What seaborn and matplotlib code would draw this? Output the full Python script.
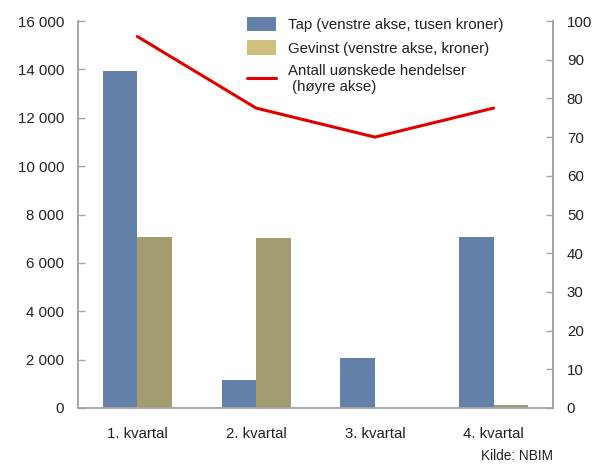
import matplotlib
matplotlib.use("Agg")
import matplotlib.pyplot as plt
from matplotlib.patches import Patch
from matplotlib.lines import Line2D
from matplotlib.ticker import FuncFormatter, FixedLocator
import numpy as np
import pandas as pd
import seaborn as sns

# Data
kvartal = ["1. kvartal", "2. kvartal", "3. kvartal", "4. kvartal"]
tap = [13950, 1170, 2050, 7080]          # venstre akse, tusen kroner
gevinst = [7080, 7030, 0, 125]           # venstre akse, kroner
hendelser = [96, 77.5, 70, 77.5]         # høyre akse

serie_tap = "Tap (venstre akse, tusen kroner)"
serie_gev = "Gevinst (venstre akse, kroner)"
serie_line = "Antall uønskede hendelser\n (høyre akse)"

df = pd.DataFrame({
    "kvartal": kvartal * 2,
    "verdi": tap + gevinst,
    "serie": [serie_tap] * 4 + [serie_gev] * 4,
})

sns.set_style("white")
plt.rcParams["font.family"] = ["Liberation Sans", "DejaVu Sans"]
plt.rcParams["font.size"] = 10.8
plt.rcParams["text.color"] = "#222222"

blue = "#6380A8"
tan = "#A39C6F"
tan_legend = "#D0C07E"
red = "#E00000"
grey = "#A6A6A6"
fs = 10.8

fig = plt.figure(figsize=(5.93, 4.65), dpi=100)
ax = fig.add_axes([0.1315, 0.1226, 0.801, 0.8322])

sns.barplot(data=df, x="kvartal", y="verdi", hue="serie", order=kvartal,
            hue_order=[serie_tap, serie_gev], palette=[blue, tan],
            width=0.58, saturation=1, linewidth=0, ax=ax, legend=False)
ax.set_ylim(0, 16000)
ax.set_xlim(-0.5, 3.5)
ax.set_xlabel("")
ax.set_ylabel("")
ax.yaxis.set_major_locator(FixedLocator(np.arange(0, 16001, 2000)))
ax.yaxis.set_major_formatter(FuncFormatter(lambda v, p: f"{int(v):,}".replace(",", " ")))

ax2 = ax.twinx()
sns.lineplot(x=[0, 1, 2, 3], y=hendelser, color=red, linewidth=2.2, ax=ax2)
ax2.set_ylim(0, 100)
ax2.set_xlim(-0.5, 3.5)
ax2.set_yticks(np.arange(0, 101, 10))
ax2.set_ylabel("")

ax.set_xticks(range(4))
ax.set_xticklabels(kvartal)
ax.set_xticks(np.arange(-0.5, 3.6, 1), minor=True)
ax.tick_params(axis="x", which="major", length=0, pad=14, labelsize=fs, labelcolor="#222222")
ax.tick_params(axis="x", which="minor", length=5, width=1, color=grey, direction="out")
ax.tick_params(axis="y", length=5, width=1, color=grey, direction="in", pad=10,
               labelsize=fs, labelcolor="#222222", left=True)
ax2.tick_params(axis="y", length=5, width=1, color=grey, direction="in", pad=10,
                labelsize=fs, labelcolor="#222222", right=True)

for a in (ax, ax2):
    a.spines["top"].set_visible(False)
    for s in ("left", "right", "bottom"):
        a.spines[s].set_color(grey)
        a.spines[s].set_linewidth(1.2)

handles = [
    Patch(facecolor=blue, edgecolor="none"),
    Patch(facecolor=tan_legend, edgecolor="none"),
    Line2D([0], [0], color=red, linewidth=2.2),
]
ax2.legend(handles, [serie_tap, serie_gev, serie_line], loc="upper left",
           bbox_to_anchor=(0.34, 1.03), frameon=False, fontsize=fs,
           handlelength=1.95, handleheight=1.1, handletextpad=0.8,
           labelspacing=0.55, borderpad=0)

fig.text(0.932, 0.005, "Kilde: NBIM", ha="right", va="bottom", fontsize=9.8)

fig.savefig("out.png", dpi=100)
